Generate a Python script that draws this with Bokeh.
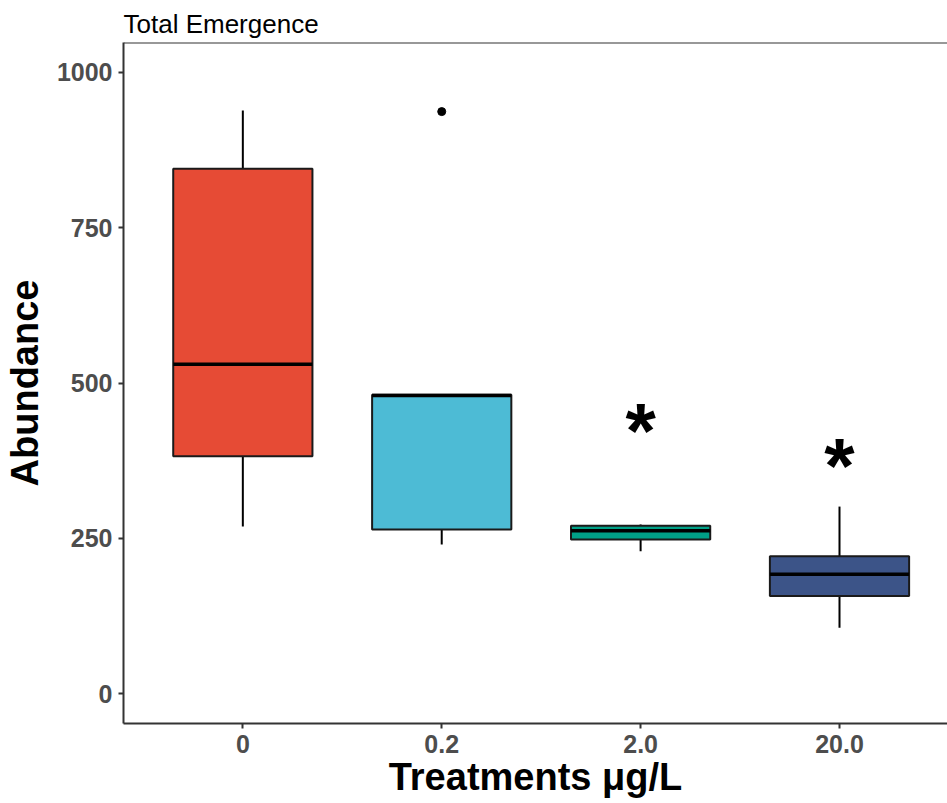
from bokeh.plotting import figure
from bokeh.models import Range1d, FixedTicker, Span, ColumnDataSource
from bokeh.core.properties import value
from bokeh.embed import file_html
from bokeh.resources import INLINE

categories = ["0", "0.2", "2.0", "20.0"]
colors = ["#E64B35", "#4DBBD5", "#00A087", "#3C5488"]
lower = [269, 240, 229, 106]
q1 = [382, 264, 248, 157]
median = [530, 480, 262, 192]
q3 = [845, 481, 270, 221]
upper = [939, 481, 272, 301]
outlier_cat = ["0.2"]
outlier_val = [937]
sig_cat = ["2.0", "20.0"]
sig_label = ["*", "*"]
sig_y = [422, 367]

pos = {c: i + 1 for i, c in enumerate(categories)}
xs = [pos[c] for c in categories]
bw = 0.7

p = figure(width=947, height=803,
           min_border_left=123, min_border_top=42, min_border_bottom=80, min_border_right=0,
           x_range=Range1d(0.4, 4.543), y_range=Range1d(-48.3, 1048.3),
           output_backend="svg", toolbar_location=None,
           title="Total Emergence")
p.outline_line_color = None
p.xgrid.visible = False
p.ygrid.visible = False
p.background_fill_color = "white"
p.border_fill_color = "white"

p.title.text_font = "Liberation Sans"
p.title.text_font_size = "26px"
p.title.text_font_style = "normal"
p.title.text_color = "black"
p.title.align = "left"
p.title.vertical_align = "top"
p.title.offset = 0
p.title.standoff = 4

src = ColumnDataSource(dict(x=xs, lower=lower, q1=q1, med=median, q3=q3, upper=upper,
                            color=colors,
                            x0=[x - bw / 2 for x in xs], x1=[x + bw / 2 for x in xs]))

p.segment(x0="x", x1="x", y0="q3", y1="upper", source=src, line_color="black", line_width=2)
p.segment(x0="x", x1="x", y0="q1", y1="lower", source=src, line_color="black", line_width=2)
p.vbar(x="x", top="q3", bottom="q1", width=bw, fill_color="color", line_color="#1a1a1a",
       line_width=2, source=src)
p.segment(x0="x0", x1="x1", y0="med", y1="med", source=src, line_color="black", line_width=3.5)

p.scatter([pos[c] for c in outlier_cat], outlier_val, size=8, color="black")

p.text([pos[c] for c in sig_cat], sig_y, text=sig_label, text_font=value("Liberation Sans"),
       text_font_style="bold", text_font_size="78px", text_align="center",
       text_baseline="alphabetic", text_color="black")

p.add_layout(Span(location=1048.3, dimension="width", line_color="#333333", line_width=2))

for ax in (p.xaxis[0], p.yaxis[0]):
    ax.axis_line_color = "#333333"
    ax.axis_line_width = 2
    ax.major_tick_line_color = "#333333"
    ax.major_tick_line_width = 2
    ax.major_tick_out = 5
    ax.major_tick_in = 0
    ax.minor_tick_line_color = None
    ax.major_label_text_font = "Liberation Sans"
    ax.major_label_text_font_style = "bold"
    ax.major_label_text_font_size = "25px"
    ax.major_label_text_color = "#4D4D4D"
    ax.axis_label_text_font = "Liberation Sans"
    ax.axis_label_text_font_style = "bold"
    ax.axis_label_text_font_size = "38px"
    ax.axis_label_text_color = "black"

p.xaxis.ticker = FixedTicker(ticks=xs)
p.xaxis.major_label_overrides = {x: c for x, c in zip(xs, categories)}
p.xaxis.axis_label = "Treatments μg/L"
p.xaxis.major_label_standoff = 6
p.xaxis.axis_label_standoff = 0

p.yaxis.ticker = FixedTicker(ticks=[0, 250, 500, 750, 1000])
p.yaxis.axis_label = "Abundance"
p.yaxis.major_label_standoff = 6
p.yaxis.axis_label_standoff = 8

open("out.html", "w").write(file_html(p, INLINE))
